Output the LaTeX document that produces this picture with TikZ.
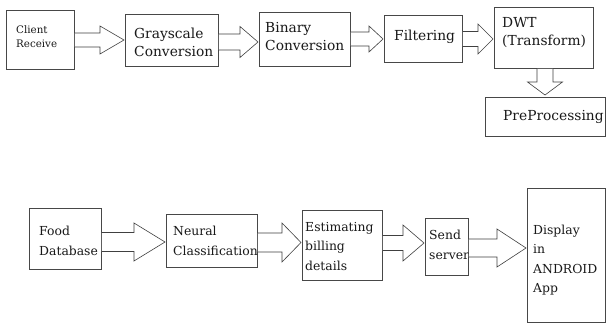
\documentclass[tikz,border=0pt]{standalone}
\usepackage{fontspec}
\setmainfont{DejaVu Serif}
\usetikzlibrary{calc}
\tikzset{
  box/.style={draw=black!72, line width=0.9pt, fill=white, inner sep=0pt, anchor=north west},
  txt/.style={inner sep=0pt, anchor=west, align=left, text=black!90},
  toptxt/.style={txt, font=\fontsize{13.8}{18}\selectfont},
  bottxt/.style={txt, font=\fontsize{12.4}{19.5}\selectfont},
  smalltxt/.style={txt, font=\fontsize{10.3}{14}\selectfont},
  blockarrow/.style={draw=black!75, line width=0.6pt, fill=white, line join=miter},
}
% #1 from, #2 to, #3 centre y, #4 shaft half, #5 head half, #6 head length
\newcommand\harrow[6]{%
  \path (#1.east |- 0,#3) coordinate (s-#1) (#2.west |- 0,#3) coordinate (t-#1);
  \draw[blockarrow] ($(s-#1)+(0,-#4)$) -- ($(t-#1)+(-#6,-#4)$) -- ($(t-#1)+(-#6,-#5)$)
    -- ($(t-#1)+(-1,0)$) -- ($(t-#1)+(-#6,#5)$) -- ($(t-#1)+(-#6,#4)$) -- ($(s-#1)+(0,#4)$);
}
\newcommand\varrow[6]{%
  \path (#1.south -| #3,0) coordinate (s-#1) (#2.north -| #3,0) coordinate (t-#1);
  \draw[blockarrow] ($(s-#1)+(-#4,0)$) -- ($(t-#1)+(-#4,-#6)$) -- ($(t-#1)+(-#5,-#6)$)
    -- ($(t-#1)+(0,-2)$) -- ($(t-#1)+(#5,-#6)$) -- ($(t-#1)+(#4,-#6)$) -- ($(s-#1)+(#4,0)$);
}
\begin{document}
\begin{tikzpicture}[x=1pt,y=-1pt]
\useasboundingbox[fill=white] (0,0) rectangle (607,323);

% top row boxes
\node[box, minimum width=68pt, minimum height=59pt] (client) at (6,10) {};
\node[box, minimum width=93pt, minimum height=52pt] (gray) at (125,14) {};
\node[box, minimum width=91pt, minimum height=54pt] (binary) at (259,12) {};
\node[box, minimum width=78pt, minimum height=47pt] (filter) at (384,15) {};
\node[box, minimum width=99pt, minimum height=61pt] (dwt) at (494,7) {};
\node[box, minimum width=120pt, minimum height=39pt] (pre) at (485,97) {};

% bottom row boxes
\node[box, minimum width=72pt, minimum height=61pt] (food) at (29,208) {};
\node[box, minimum width=91pt, minimum height=53pt] (neural) at (166,214) {};
\node[box, minimum width=80pt, minimum height=70pt] (est) at (302,210) {};
\node[box, minimum width=43pt, minimum height=57pt] (send) at (425,218) {};
\node[box, minimum width=78pt, minimum height=134pt] (disp) at (527,188) {};

% texts
\node[smalltxt] (client-t) at (16,37) {Client\\Receive};
\node[toptxt] (gray-t) at (134,42) {Grayscale\\Conversion};
\node[toptxt] (binary-t) at (265,37) {Binary\\Conversion};
\node[toptxt] (filter-t) at (394,37) {Filtering};
\node[toptxt] (dwt-t) at (502,33) {DWT\\(Transform)};
\node[toptxt] (pre-t) at (503,117) {PreProcessing};
\node[bottxt] (food-t) at (39,241) {Food\\Database};
\node[bottxt] (neural-t) at (173,241) {Neural\\Classification};
\node[bottxt] (est-t) at (305,246.5) {Estimating\\billing\\details};
\node[bottxt] (send-t) at (429,245) {Send\\server};
\node[bottxt] (disp-t) at (533,260) {Display\\in\\ANDROID\\App};

% block arrows
\harrow{client}{gray}{40}{7}{14}{25}
\harrow{gray}{binary}{42}{8}{15.5}{19}
\harrow{binary}{filter}{39}{7}{13}{15}
\harrow{filter}{dwt}{39}{7.5}{15}{16}
\varrow{dwt}{pre}{545}{8}{17.5}{15}
\harrow{food}{neural}{242}{9.5}{19}{32}
\harrow{neural}{est}{242.5}{9.5}{19.5}{20}
\harrow{est}{send}{243}{7.5}{18}{22}
\harrow{send}{disp}{248}{9}{19}{30}
\end{tikzpicture}
\end{document}
